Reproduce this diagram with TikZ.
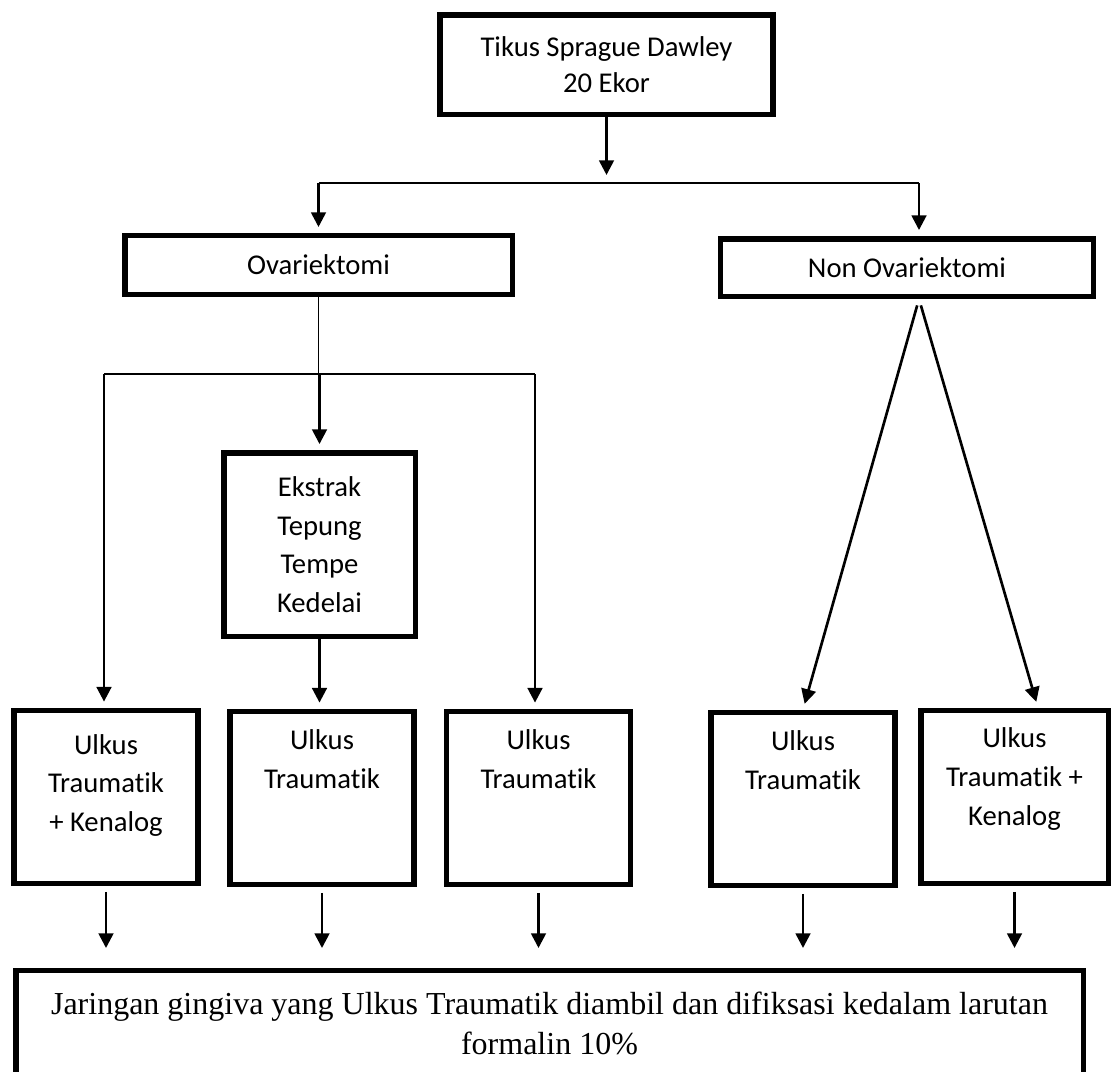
\documentclass[tikz,border=0pt]{standalone}
\usepackage{fontspec}
\setmainfont{Carlito}[Ligatures=NoCommon]
\newfontfamily\jarfont{Liberation Serif}
\usetikzlibrary{arrows.meta}
\newcommand{\boxfont}{\fontsize{21.5}{29}\selectfont}

\tikzset{
  box/.style={rectangle, draw, line width=4.1pt, inner sep=0pt, align=center, font=\boxfont},
  ubox/.style={box, minimum width=138pt, minimum height=130pt},
  inside/.style={anchor=north, inner sep=0pt, align=center, font=\boxfont},
  arrow/.style={-{Triangle[length=11pt,width=11pt]}, line width=2pt, shorten >=4.5pt},
  thinline/.style={line width=1pt}
}

\begin{document}
\begin{tikzpicture}[x=0.75pt, y=-0.75pt]
  \path[use as bounding box, fill=white] (0,0) rectangle (1112,1071);
  \clip (0,0) rectangle (1112,1071);
  % Nodes
  \node (TSD) [box, minimum width=250pt, minimum height=74.6pt, font=\fontsize{21.5}{27}\selectfont] at (606.5,64.5) {Tikus Sprague Dawley\\20 Ekor};
  \node (OVA) [box, minimum width=290.6pt, minimum height=43.9pt] at (318.5,265) {Ovariektomi};
  \node (NOVA) [box, minimum width=279.4pt, minimum height=43.1pt] at (907,267.5) {Non Ovariektomi};
  \node (EKS) [box, minimum width=143.6pt, minimum height=137.6pt] at (319.5,544.5) {Ekstrak\\Tepung\\Tempe\\Kedelai};
  \node (U1) [ubox, label={[inside, yshift=-19.7pt]north:Ulkus\\Traumatik\\+ Kenalog}] at (106,797) {};
  \node (U2) [ubox, label={[inside, yshift=-15.5pt]north:Ulkus\\Traumatik}] at (322,798) {};
  \node (U3) [ubox, label={[inside, yshift=-15.5pt]north:Ulkus\\Traumatik}] at (538.5,798) {};
  \node (U4) [ubox, label={[inside, yshift=-15.5pt]north:Ulkus\\Traumatik}] at (803,799) {};
  \node (U5) [ubox, minimum width=140.6pt, label={[inside, yshift=-15pt]north:Ulkus\\Traumatik +\\Kenalog}] at (1014.5,797) {};
  \node (JAR) [box, minimum width=800.6pt, minimum height=78.4pt, font=\jarfont\fontsize{24}{30}\selectfont] at (549.5,1023) {Jaringan gingiva yang Ulkus Traumatik diambil dan difiksasi kedalam larutan\\formalin 10\%};
  % Split points
  \coordinate (split) at (919,183);
  \coordinate (fork) at (319,374);
  \coordinate (forkL) at (104,374);
  \coordinate (forkR) at (535,374);
  \coordinate (apex) at (split |- NOVA.south);
  % Arrows
  \draw[arrow, shorten >=6pt] (TSD.south) -- (TSD.south |- split);
  \draw[thinline] (OVA.north |- split) -- (split);
  \draw[arrow] (OVA.north |- split) -- (OVA.north);
  \draw[arrow] (split) -- (split |- NOVA.north);
  \draw[thinline] (OVA.south) -- (OVA.south |- fork);
  \draw[thinline] (forkL) -- (forkR);
  \draw[arrow] (forkL) -- (forkL |- U1.north);
  \draw[arrow] (EKS.north |- fork) -- (EKS.north);
  \draw[arrow] (forkR) -- (forkR |- U3.north);
  \draw[arrow] (EKS.south) -- (EKS.south |- U2.north);
  \draw[arrow, shorten <=5pt] (apex) -- (U4.north);
  \draw[arrow, shorten <=5pt] (apex) -- ([xshift=17.6pt]U5.north);
  % Arrows to the bottom box
  \foreach \u in {U1,U2,U3,U4,U5}
    \draw[arrow, shorten <=4pt, shorten >=15pt] (\u.south) -- (\u.south |- JAR.north);
\end{tikzpicture}
\end{document}
